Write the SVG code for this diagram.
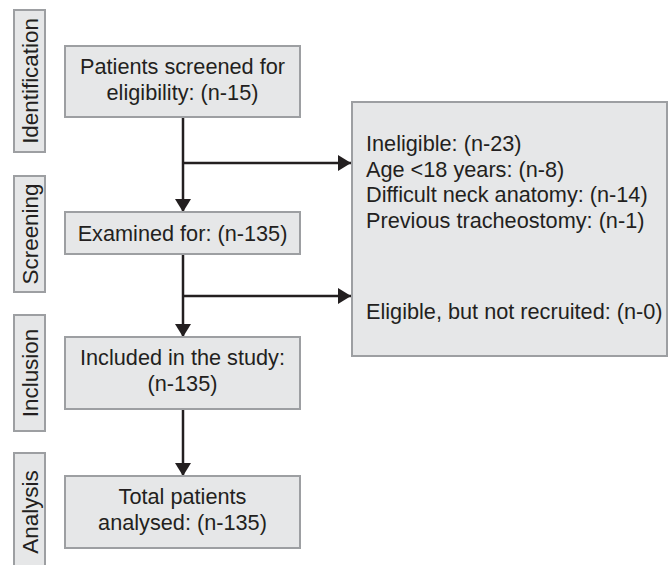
<svg xmlns="http://www.w3.org/2000/svg" width="668" height="565" viewBox="0 0 668 565">
<style>
.box{fill:#e6e7e8;stroke:#9d9fa2;stroke-width:2}
.t{font-family:"Liberation Sans",Arial,sans-serif;font-size:21.7px;fill:#231f20}
.s{font-size:22.4px}
.c{text-anchor:middle}
.ln{stroke:#231f20;stroke-width:2.5;fill:none}
</style>
<defs>
<marker id="ahd" markerWidth="13" markerHeight="16" refX="13" refY="8" orient="auto" markerUnits="userSpaceOnUse" viewBox="0 0 13 16">
<path d="M0,0 L13,8 L0,16 Z" fill="#231f20"/>
</marker>
</defs>
<g id="lbl-identification"><rect class="box" x="14" y="10" width="31" height="142"/><text class="t s c" transform="translate(37.5,81) rotate(-90)">Identification</text></g>
<g id="lbl-screening"><rect class="box" x="14" y="176" width="31" height="116"/><text class="t s c" transform="translate(37.5,234) rotate(-90)">Screening</text></g>
<g id="lbl-inclusion"><rect class="box" x="14" y="315" width="31" height="116"/><text class="t s c" transform="translate(37.5,373) rotate(-90)">Inclusion</text></g>
<g id="lbl-analysis"><rect class="box" x="14" y="453" width="31" height="120"/><text class="t s c" transform="translate(37.5,512) rotate(-90)">Analysis</text></g>
<g id="connectors">
<line class="ln" x1="183" y1="117" x2="183" y2="212" marker-end="url(#ahd)"/>
<line class="ln" x1="183" y1="163" x2="351" y2="163" marker-end="url(#ahd)"/>
<line class="ln" x1="183" y1="254" x2="183" y2="337" marker-end="url(#ahd)"/>
<line class="ln" x1="183" y1="296" x2="351" y2="296" marker-end="url(#ahd)"/>
<line class="ln" x1="183" y1="409" x2="183" y2="476" marker-end="url(#ahd)"/>
</g>
<g id="n-screened"><rect class="box" x="65" y="46" width="235" height="71"/><text class="t c" x="182.5" y="73.5">Patients screened for</text><text class="t c" x="182.5" y="99.5">eligibility: (n-15)</text></g>
<g id="n-examined"><rect class="box" x="65" y="212" width="235" height="42"/><text class="t c" x="182.5" y="240.5">Examined for: (n-135)</text></g>
<g id="n-included"><rect class="box" x="65" y="337" width="235" height="72"/><text class="t c" x="182.5" y="365">Included in the study:</text><text class="t c" x="182.5" y="391">(n-135)</text></g>
<g id="n-total"><rect class="box" x="65" y="476" width="235" height="72"/><text class="t c" x="182.5" y="504">Total patients</text><text class="t c" x="182.5" y="530">analysed: (n-135)</text></g>
<g id="n-excluded"><rect class="box" x="352" y="102" width="315" height="254"/>
<text class="t" x="366" y="151">Ineligible: (n-23)</text>
<text class="t" x="366" y="176.5">Age &lt;18 years: (n-8)</text>
<text class="t" x="366" y="202">Difficult neck anatomy: (n-14)</text>
<text class="t" x="366" y="227.5">Previous tracheostomy: (n-1)</text>
<text class="t" x="366" y="318.5">Eligible, but not recruited: (n-0)</text>
</g>
</svg>
